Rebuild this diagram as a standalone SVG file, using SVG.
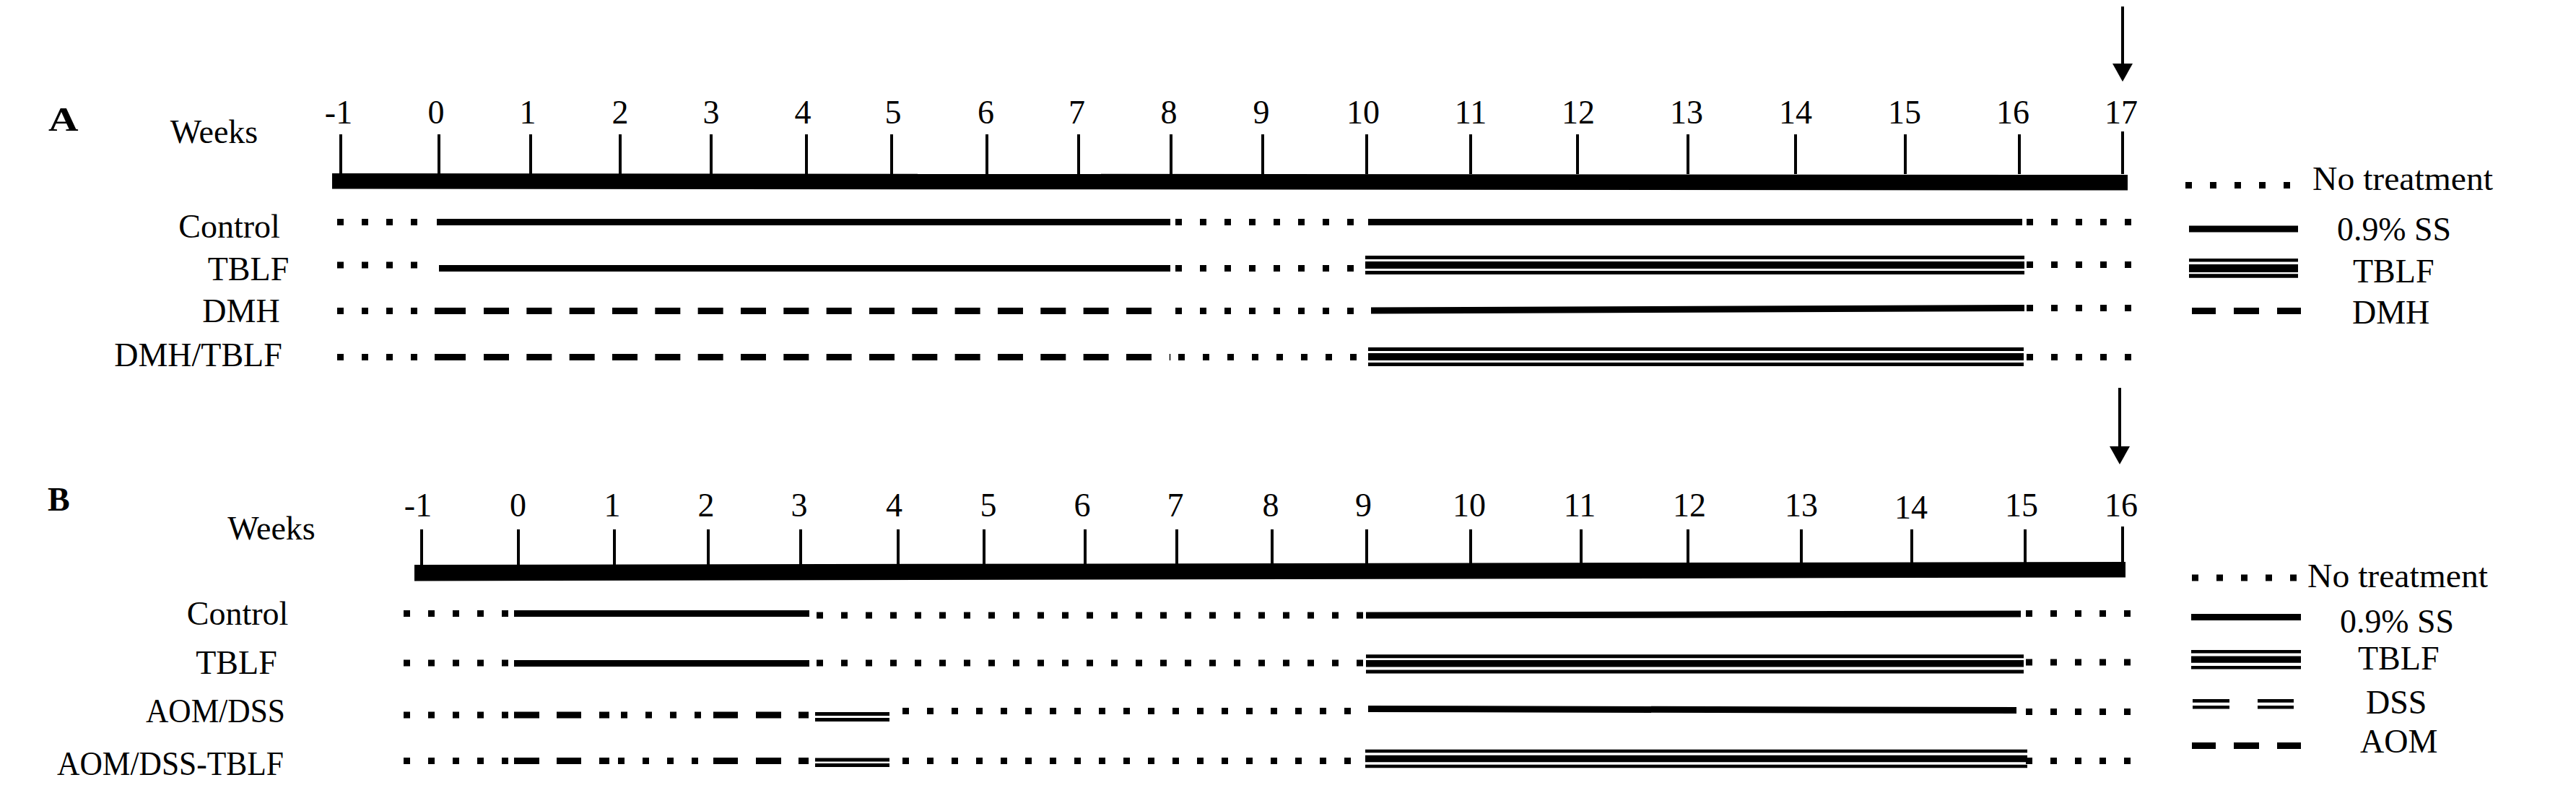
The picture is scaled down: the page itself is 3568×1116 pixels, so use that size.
<svg xmlns="http://www.w3.org/2000/svg" width="3568" height="1116" viewBox="0 0 3568 1116">
<defs>
<style>
.t{font-family:"Liberation Serif","Times New Roman",serif;font-size:46px;fill:#000}
.b{font-weight:bold}
.m{text-anchor:middle}
line,.tk{stroke:#000;fill:none}
.tk{stroke-width:4}
.dot{stroke-width:9;stroke-dasharray:9 25}
.sol{stroke-width:9}
.dsh{stroke-width:9;stroke-dasharray:35 24.33}
.thin{stroke-width:5}
.thick{stroke-width:10}
.arr{stroke-width:4}
</style>
<marker id="ah" markerUnits="userSpaceOnUse" markerWidth="26" markerHeight="28" viewBox="0 0 26 28" refX="0" refY="14" orient="auto"><path d="M0,0 L25,14 L0,28 z" fill="#000"/></marker>
</defs>
<rect width="3568" height="1116" fill="#fff"/>

<!-- ================= PANEL A ================= -->
<g id="panel-a-title">
<text class="t b" transform="translate(67,181) scale(1.25,1)" font-size="35">A</text>
<text class="t m" x="296.5" y="198">Weeks</text>
</g>
<g id="axis-a">
<polygon points="460,240 2947,242 2947,263.5 460,261.5" fill="#000"/>
<path class="tk" d="M472,186V241 M608,186V241 M735,186V241 M859,186V241 M985,186V241 M1117,186V241 M1235,186V241 M1367,186V241 M1494,186V241 M1622,186V241 M1749,186V241 M1893,186V241 M2037,186V241 M2185,186V241 M2338,186V241 M2487,186V241 M2639,186V241 M2797,186V241 M2940,182V241"/>
<g class="t m">
<text x="469" y="171">-1</text>
<text x="604" y="171">0</text>
<text x="731" y="171">1</text>
<text x="859" y="171">2</text>
<text x="985" y="171">3</text>
<text x="1112" y="171">4</text>
<text x="1237" y="171">5</text>
<text x="1365.5" y="171">6</text>
<text x="1491.5" y="171">7</text>
<text x="1619" y="171">8</text>
<text x="1747" y="171">9</text>
<text x="1888" y="171">10</text>
<text x="2037" y="171">11</text>
<text x="2186" y="171">12</text>
<text x="2336" y="171">13</text>
<text x="2487" y="171">14</text>
<text x="2638" y="171">15</text>
<text x="2788" y="171">16</text>
<text x="2938" y="171">17</text>
</g>
</g>
<g id="arrow-a">
<line class="arr" x1="2940" y1="9" x2="2940" y2="88" marker-end="url(#ah)"/>
</g>

<g id="row-a-control">
<text class="t m" x="317.5" y="328.6">Control</text>
<line class="dot" x1="467" y1="307.5" x2="578" y2="307.5"/>
<line class="sol" x1="605" y1="307.5" x2="1621" y2="307.5"/>
<line class="dot" x1="1628" y1="307.5" x2="1875" y2="307.5"/>
<line class="sol" x1="1895" y1="307.5" x2="2801" y2="307.5"/>
<line class="dot" x1="2807" y1="307.5" x2="2952" y2="307.5"/>
</g>
<g id="row-a-tblf">
<text class="t m" x="344" y="387.5">TBLF</text>
<line class="dot" x1="467" y1="367" x2="578" y2="367"/>
<line class="sol" x1="608" y1="371.5" x2="1621" y2="371.5"/>
<line class="dot" x1="1628" y1="371.5" x2="1875" y2="371.5"/>
<line class="thin" x1="1891" y1="356.5" x2="2804" y2="356.5"/>
<line class="thick" x1="1891" y1="367" x2="2804" y2="367"/>
<line class="thin" x1="1891" y1="377.5" x2="2804" y2="377.5"/>
<line class="dot" x1="2807" y1="366.5" x2="2952" y2="366.5"/>
</g>
<g id="row-a-dmh">
<text class="t m" x="334" y="446.4">DMH</text>
<line class="dot" x1="467" y1="430.5" x2="578" y2="430.5"/>
<line class="sol" x1="602" y1="430.5" x2="645" y2="430.5"/>
<line class="dsh" x1="670" y1="430.5" x2="1595" y2="430.5"/>
<line class="dot" x1="1628" y1="430.5" x2="1875" y2="430.5"/>
<line class="sol" x1="1899" y1="430" x2="2804" y2="426.5"/>
<line class="dot" x1="2807" y1="426.5" x2="2952" y2="426.5"/>
</g>
<g id="row-a-dmh-tblf">
<text class="t m" x="274.5" y="507">DMH/TBLF</text>
<line class="dot" x1="467" y1="494.5" x2="578" y2="494.5"/>
<line class="sol" x1="602" y1="494.5" x2="645" y2="494.5"/>
<line class="dsh" x1="670" y1="494.5" x2="1595" y2="494.5"/>
<line x1="1620.5" y1="490" x2="1620.5" y2="499" stroke-width="1.5"/>
<line class="dot" x1="1632" y1="494.5" x2="1879" y2="494.5"/>
<line class="thin" x1="1895" y1="483.4" x2="2803" y2="483.4"/>
<line class="thick" x1="1895" y1="494" x2="2803" y2="494"/>
<line class="thin" x1="1895" y1="504.5" x2="2803" y2="504.5"/>
<line class="dot" x1="2807" y1="494.5" x2="2952" y2="494.5"/>
</g>

<g id="legend-a">
<line class="dot" x1="3027" y1="256.5" x2="3172" y2="256.5"/>
<text class="t" x="3203" y="262.5" textLength="250" lengthAdjust="spacingAndGlyphs">No treatment</text>
<line class="sol" x1="3032" y1="317" x2="3183" y2="317"/>
<text class="t" x="3237" y="332.5" textLength="158" lengthAdjust="spacingAndGlyphs">0.9% SS</text>
<line x1="3032" y1="360.3" x2="3183" y2="360.3" stroke-width="4.5"/>
<line x1="3032" y1="371.4" x2="3183" y2="371.4" stroke-width="11"/>
<line x1="3032" y1="382" x2="3183" y2="382" stroke-width="5.3"/>
<text class="t" x="3259" y="391">TBLF</text>
<line class="sol" x1="3036" y1="430.5" x2="3069" y2="430.5"/>
<line class="sol" x1="3094" y1="430.5" x2="3129" y2="430.5"/>
<line class="sol" x1="3154" y1="430.5" x2="3187" y2="430.5"/>
<text class="t" x="3258" y="448">DMH</text>
</g>

<!-- ================= PANEL B ================= -->
<g id="panel-b-title">
<text class="t b" x="66" y="707">B</text>
<text class="t m" x="376" y="746.5">Weeks</text>
</g>
<g id="axis-b">
<polygon points="574,782 2944,778 2944,799.5 574,804.5" fill="#000"/>
<path class="tk" d="M584,733V783 M718,733V783 M851,733V783 M981,733V783 M1109,733V783 M1244,733V783 M1363,733V783 M1503,733V783 M1630,733V783 M1762,733V783 M1893,733V782 M2037,733V782 M2190,733V781 M2338,733V781 M2495,733V780 M2648,733V780 M2805,733V779 M2940,729V779"/>
<g class="t m">
<text x="579" y="715">-1</text>
<text x="717.6" y="715">0</text>
<text x="848" y="715">1</text>
<text x="978" y="715">2</text>
<text x="1107" y="715">3</text>
<text x="1238.5" y="715">4</text>
<text x="1369" y="715">5</text>
<text x="1499" y="715">6</text>
<text x="1628" y="715">7</text>
<text x="1760" y="715">8</text>
<text x="1888.6" y="715">9</text>
<text x="2035" y="715">10</text>
<text x="2188" y="715">11</text>
<text x="2340" y="715">12</text>
<text x="2495" y="715">13</text>
<text x="2647" y="718">14</text>
<text x="2800" y="715">15</text>
<text x="2938" y="715">16</text>
</g>
</g>
<g id="arrow-b">
<line class="arr" x1="2936" y1="537" x2="2936" y2="618" marker-end="url(#ah)"/>
</g>

<g id="row-b-control">
<text class="t m" x="329" y="865">Control</text>
<line class="dot" x1="559" y1="849.5" x2="704" y2="849.5"/>
<line class="sol" x1="712" y1="849.5" x2="1121" y2="849.5"/>
<line class="dot" x1="1131" y1="852" x2="1888" y2="852"/>
<line class="sol" x1="1892" y1="852" x2="2799" y2="850"/>
<line class="dot" x1="2806" y1="849.5" x2="2951" y2="849.5"/>
</g>
<g id="row-b-tblf">
<text class="t m" x="327.5" y="933">TBLF</text>
<line class="dot" x1="559" y1="918" x2="704" y2="918"/>
<line class="sol" x1="712" y1="918.5" x2="1121" y2="918.5"/>
<line class="dot" x1="1131" y1="918" x2="1888" y2="918"/>
<line class="thin" x1="1892" y1="908.8" x2="2803" y2="908.8"/>
<line x1="1892" y1="918.75" x2="2803" y2="918.75" stroke-width="9.5"/>
<line class="thin" x1="1892" y1="930" x2="2803" y2="930"/>
<line class="dot" x1="2806" y1="917" x2="2951" y2="917"/>
</g>
<g id="row-b-aom-dss">
<text class="t m" x="298.5" y="1000" textLength="193" lengthAdjust="spacingAndGlyphs">AOM/DSS</text>
<line class="dot" x1="559" y1="990" x2="704" y2="990"/>
<line class="sol" x1="712" y1="990" x2="747" y2="990"/>
<line class="sol" x1="771" y1="990" x2="805" y2="990"/>
<line class="sol" x1="830" y1="990" x2="844" y2="990"/>
<line class="dot" x1="860" y1="990" x2="971" y2="990"/>
<line class="sol" x1="988" y1="990" x2="1022" y2="990"/>
<line class="sol" x1="1047" y1="990" x2="1082" y2="990"/>
<line class="sol" x1="1106" y1="990" x2="1120" y2="990"/>
<line class="thin" x1="1129" y1="988.5" x2="1232" y2="988.5"/>
<line class="thin" x1="1129" y1="996.5" x2="1232" y2="996.5"/>
<line class="dot" x1="1250" y1="984.5" x2="1871" y2="984.5"/>
<line class="sol" x1="1895" y1="981.5" x2="2793" y2="983.5"/>
<line class="dot" x1="2806" y1="985.5" x2="2951" y2="985.5"/>
</g>
<g id="row-b-aom-dss-tblf">
<text class="t m" x="236" y="1073.4" textLength="314" lengthAdjust="spacingAndGlyphs">AOM/DSS-TBLF</text>
<line class="dot" x1="559" y1="1053.5" x2="704" y2="1053.5"/>
<line class="sol" x1="712" y1="1053.5" x2="747" y2="1053.5"/>
<line class="sol" x1="771" y1="1053.5" x2="805" y2="1053.5"/>
<line class="sol" x1="830" y1="1053.5" x2="844" y2="1053.5"/>
<line class="dot" x1="856" y1="1053.5" x2="967" y2="1053.5"/>
<line class="sol" x1="988" y1="1053.5" x2="1022" y2="1053.5"/>
<line class="sol" x1="1047" y1="1053.5" x2="1082" y2="1053.5"/>
<line class="sol" x1="1106" y1="1053.5" x2="1120" y2="1053.5"/>
<line class="thin" x1="1129" y1="1051.9" x2="1232" y2="1051.9"/>
<line class="thin" x1="1129" y1="1059.5" x2="1232" y2="1059.5"/>
<line class="dot" x1="1250" y1="1053.5" x2="1871" y2="1053.5"/>
<line x1="1891" y1="1040" x2="2808" y2="1040" stroke-width="4.5"/>
<line x1="1891" y1="1050.6" x2="2808" y2="1050.6" stroke-width="9.5"/>
<line x1="1891" y1="1060.9" x2="2808" y2="1060.9" stroke-width="4.5"/>
<line class="dot" x1="2806" y1="1053.5" x2="2951" y2="1053.5"/>
</g>

<g id="legend-b">
<line class="dot" x1="3036" y1="800" x2="3181" y2="800"/>
<text class="t" x="3196" y="812.6" textLength="250" lengthAdjust="spacingAndGlyphs">No treatment</text>
<line class="sol" x1="3035" y1="854.5" x2="3187" y2="854.5"/>
<text class="t" x="3241" y="876" textLength="158" lengthAdjust="spacingAndGlyphs">0.9% SS</text>
<line x1="3035" y1="902.2" x2="3187" y2="902.2" stroke-width="4.5"/>
<line x1="3035" y1="913.1" x2="3187" y2="913.1" stroke-width="9.2"/>
<line x1="3035" y1="924.25" x2="3187" y2="924.25" stroke-width="4.5"/>
<text class="t" x="3266" y="926.5">TBLF</text>
<line x1="3037" y1="970.4" x2="3088" y2="970.4" stroke-width="4.8"/>
<line x1="3037" y1="979.3" x2="3088" y2="979.3" stroke-width="4.6"/>
<line x1="3127" y1="970.4" x2="3177" y2="970.4" stroke-width="4.8"/>
<line x1="3127" y1="979.3" x2="3177" y2="979.3" stroke-width="4.6"/>
<text class="t" x="3277" y="988">DSS</text>
<line class="sol" x1="3036" y1="1032.5" x2="3069" y2="1032.5"/>
<line class="sol" x1="3094" y1="1032.5" x2="3129" y2="1032.5"/>
<line class="sol" x1="3154" y1="1032.5" x2="3187" y2="1032.5"/>
<text class="t" x="3269" y="1041.5">AOM</text>
</g>
</svg>
